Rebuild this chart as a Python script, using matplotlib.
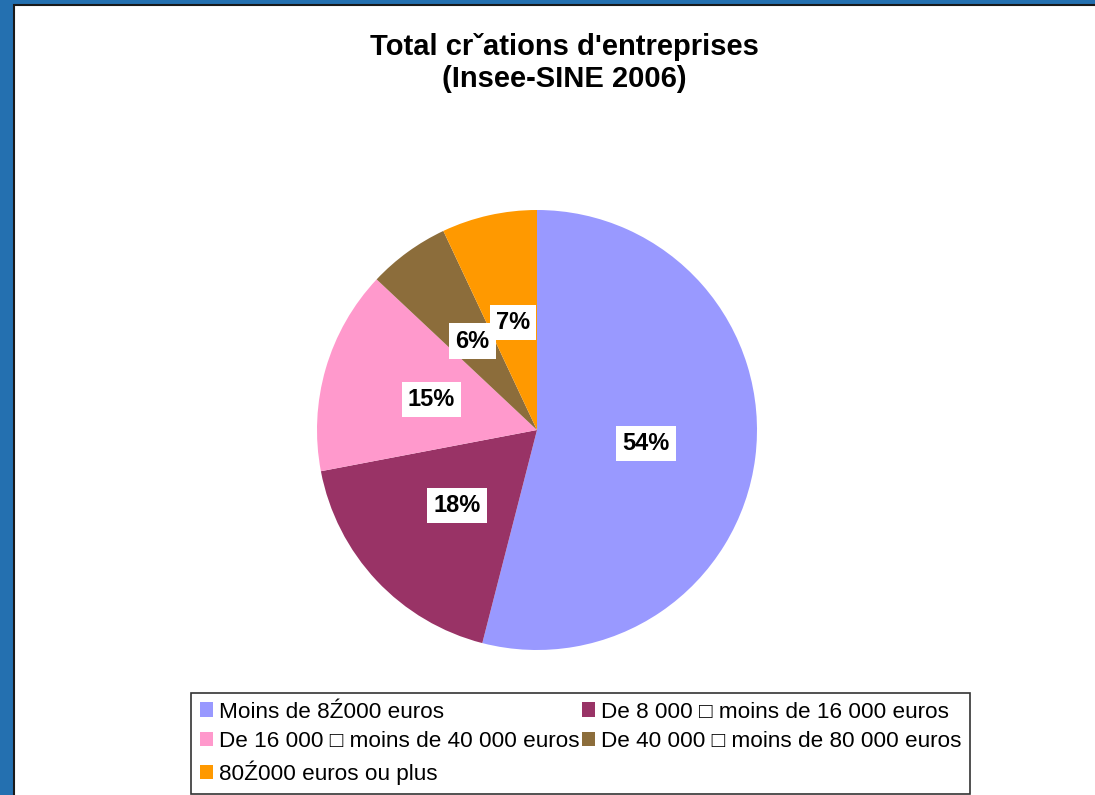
import matplotlib
matplotlib.use("Agg")
import matplotlib.pyplot as plt
from matplotlib.patches import Rectangle, Patch

plt.rcParams['font.family'] = ['Liberation Sans', 'DejaVu Sans']

# data
labels = ["Moins de 8\u0179000 euros",
          "De 8 000 \u25a1 moins de 16 000 euros",
          "De 16 000 \u25a1 moins de 40 000 euros",
          "De 40 000 \u25a1 moins de 80 000 euros",
          "80\u0179000 euros ou plus"]
shares = [54, 18, 15, 6, 7]
colors = ["#9999FF", "#993366", "#FF99CC", "#8C6D3B", "#FF9900"]
title = "Total cr\u02c7ations d'entreprises\n(Insee-SINE 2006)"

W, H = 1095, 795
fig = plt.figure(figsize=(W / 100, H / 100), dpi=100, facecolor="#2470B0")

# white panel with dark edge (left / top visible)
fig.patches.append(Rectangle((13.5 / W, -0.05), 1.1, 1 - 4.5 / H + 0.05,
                             transform=fig.transFigure, facecolor="white",
                             edgecolor="#1a1a1a", linewidth=1.5, zorder=-5))

fig.text(564 / W, 1 - 63 / H, title, ha="center", va="center",
         fontsize=21, fontweight="bold", linespacing=1.2)

cx, cy, r = 537, 430, 220
ax = fig.add_axes([(cx - r) / W, (H - cy - r) / H, 2 * r / W, 2 * r / H])
ax.set_zorder(1)
wedges, _, autotexts = ax.pie(shares, colors=colors, startangle=90,
                              counterclock=False, autopct="%d%%",
                              pctdistance=0.5, radius=1,
                              wedgeprops=dict(linewidth=0))
for t in autotexts:
    t.set_fontsize(17)
    t.set_fontweight("bold")
    t.set_bbox(dict(facecolor="white", edgecolor="none", pad=4.5))
ax.set_xlim(-1, 1)
ax.set_ylim(-1, 1)
ax.set_aspect("equal")

# legend, row-wise order for 2 columns
handles = [Patch(facecolor=c, edgecolor="none") for c in colors]
order = [0, 2, 4, 1, 3]
leg = fig.legend([handles[i] for i in order], [labels[i] for i in order],
                 ncol=2, loc="upper left",
                 bbox_to_anchor=(191 / W, 1 - 693 / H),
                 fontsize=16.2, frameon=True, fancybox=False,
                 handlelength=0.6, handleheight=0.6, handletextpad=0.25,
                 columnspacing=0.1, labelspacing=0.38, borderpad=0.38,
                 borderaxespad=0)
leg.set_zorder(2)
leg.get_frame().set_edgecolor("black")
leg.get_frame().set_linewidth(1.2)

fig.savefig("out.png", dpi=100, facecolor=fig.get_facecolor())
